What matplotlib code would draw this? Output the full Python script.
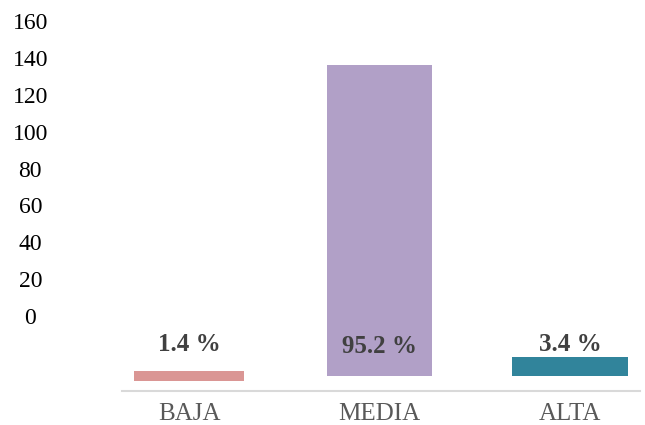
import matplotlib.pyplot as plt
import numpy as np

# data
categories = ['BAJA', 'MEDIA', 'ALTA']
bar_heights = [4.5, 140, 8.5]
bar_bottoms = [-2.25, 0, 0]
pct_labels = ['1.4 %', '95.2 %', '3.4 %']
y_ticks = [0, 20, 40, 60, 80, 100, 120, 140, 160]

colors = ['#DA9694', '#B1A0C7', '#31849B']
widths = [0.577, 0.551, 0.609]

plt.rcParams['font.family'] = ['Liberation Serif', 'DejaVu Serif']

fig = plt.figure(figsize=(6.45, 4.25), dpi=100)
pos = [122/645, 34/425, 518/645, 391/425]

# axis holding only the value labels on the left
axl = fig.add_axes(pos)
axl.set_ylim(-40.68, 171.4)
axl.set_yticks(y_ticks)
axl.set_yticklabels([str(v) for v in y_ticks], ha='center')
axl.tick_params(axis='y', length=0, pad=66, labelsize=17, labelcolor='black')
axl.set_xticks([])
for s in axl.spines.values():
    s.set_visible(False)
axl.patch.set_visible(False)

# bars
ax = fig.add_axes(pos)
x = np.arange(len(categories))
ax.bar(x, bar_heights, width=widths, bottom=bar_bottoms, color=colors)
ax.set_xlim(-0.352, 2.367)
ax.set_ylim(-6.75, 169.26)
ax.set_yticks([])
ax.set_xticks(x)
ax.set_xticklabels(categories)
ax.tick_params(axis='x', length=0, pad=9, labelsize=18, labelcolor='#595959')
for s in ['top', 'left', 'right']:
    ax.spines[s].set_visible(False)
ax.spines['bottom'].set_color('#D9D9D9')
ax.spines['bottom'].set_linewidth(1.5)
ax.patch.set_visible(False)

for i, t in enumerate(pct_labels):
    ax.text(x[i], 0.12 if i != 1 else 0.113, t, transform=ax.get_xaxis_transform(),
            ha='center', va='center', fontsize=18, fontweight='bold', color='#404040')

fig.savefig('out.png', dpi=100)
